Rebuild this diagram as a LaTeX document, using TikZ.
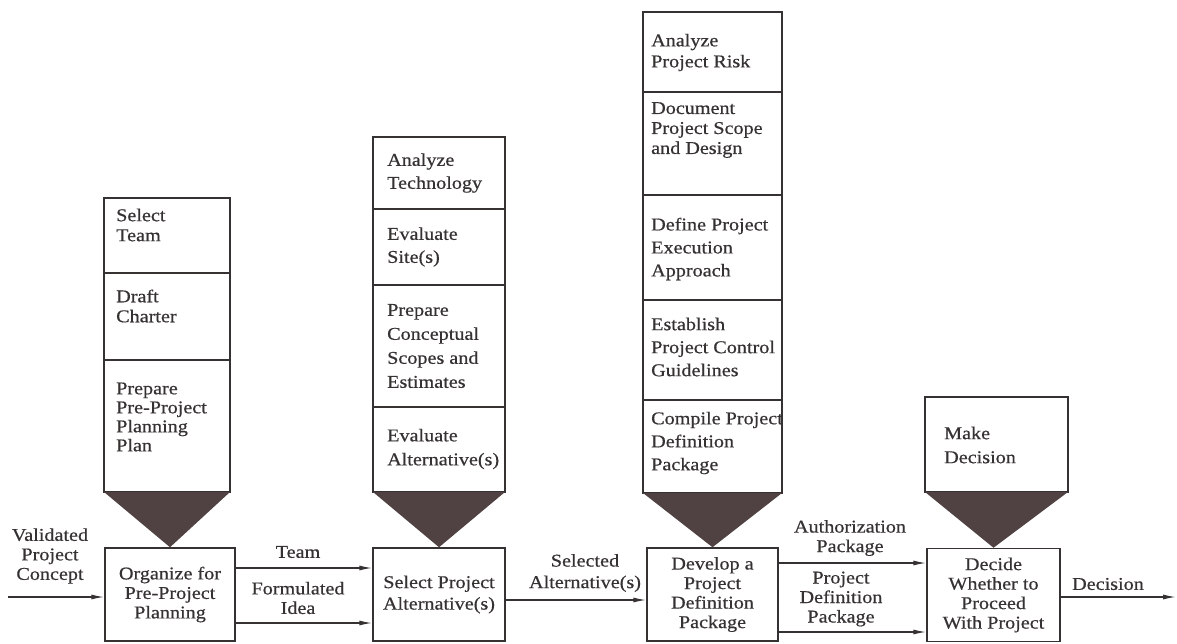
\documentclass[tikz,border=0pt]{standalone}
\usepackage{fontspec}
\setmainfont{Liberation Serif}[FakeStretch=1.12,FakeBold=0.6]
\usetikzlibrary{arrows.meta}
\definecolor{ink}{RGB}{55,50,50}
\definecolor{tri}{RGB}{80,66,66}
\begin{document}
\begin{tikzpicture}[x=1pt,y=-1pt,
  mainbox/.style={draw=ink,line width=1.5pt,minimum height=93pt,inner sep=0pt,align=center,text=ink,font=\fontsize{18}{19.5}\selectfont},
  cell/.style={draw=ink,line width=1.5pt},
  celltext/.style={anchor=west,inner sep=0pt,align=left,text=ink,font=\fontsize{18}{#1}\selectfont},
  celltext/.default=21,
  lab/.style={inner sep=0pt,align=center,text=ink,font=\fontsize{18}{19.5}\selectfont},
  arr/.style={draw=ink,line width=1.3pt,-{Latex[length=13pt,width=5pt]}},
  wedge/.style={fill=tri}
]
\useasboundingbox (0,0) rectangle (1177,643);

% main boxes
\node[mainbox,minimum width=130pt] (org) at (170,594.5) {Organize for\\Pre-Project\\Planning};
\node[mainbox,minimum width=132pt] (sel) at (439,594.5) {Select Project\\[2pt]Alternative(s)};
\node[mainbox,minimum width=131pt] (dev) at (712.5,594.5) {Develop a\\Project\\Definition\\Package};
\node[mainbox,minimum width=133pt] (dec) at (993.5,595) {Decide\\Whether to\\Proceed\\With Project};

% column 1 stack
\draw[cell] (104,198) rectangle (230,273);
\draw[cell] (104,273) rectangle (230,360);
\draw[cell] (104,360) rectangle (230,492);
\fill[wedge] (104,492) -- (230,492) -- (org.north) -- cycle;
\node[celltext=20] (c1a) at (116,225) {Select\\Team};
\node[celltext=20] (c1b) at (116,306) {Draft\\Charter};
\node[celltext=19] (c1c) at (116,417) {Prepare\\Pre-Project\\Planning\\Plan};

% column 2 stack
\draw[cell] (373,137) rectangle (505,209);
\draw[cell] (373,209) rectangle (505,285);
\draw[cell] (373,285) rectangle (505,407);
\draw[cell] (373,407) rectangle (505,492);
\fill[wedge] (373,492) -- (505,492) -- (sel.north) -- cycle;
\node[celltext=23] (c2a) at (387,173) {Analyze\\Technology};
\node[celltext=23] (c2b) at (387,247) {Evaluate\\Site(s)};
\node[celltext=24] (c2c) at (387,346) {Prepare\\Conceptual\\Scopes and\\Estimates};
\node[celltext=24] (c2d) at (387,449) {Evaluate\\Alternative(s)};

% column 3 stack
\draw[cell] (643,12) rectangle (782,92);
\draw[cell] (643,92) rectangle (782,195);
\draw[cell] (643,195) rectangle (782,300);
\draw[cell] (643,300) rectangle (782,400);
\draw[cell] (643,400) rectangle (782,493);
\fill[wedge] (643,493) -- (782,493) -- (dev.north) -- cycle;
\node[celltext=21] (c3a) at (651,52.5) {Analyze\\Project Risk};
\node[celltext=20] (c3b) at (651,130) {Document\\Project Scope\\and Design};
\node[celltext=23] (c3c) at (651,249) {Define Project\\Execution\\Approach};
\node[celltext=23] (c3d) at (651,347) {Establish\\Project Control\\Guidelines};
\node[celltext=23] (c3e) at (651,443) {Compile Project\\Definition\\Package};

% column 4 stack
\draw[cell] (925,397) rectangle (1068,492);
\fill[wedge] (925,492) -- (1068,492) -- (dec.north) -- cycle;
\node[celltext=24] (c4a) at (944,445) {Make\\Decision};

% connectors
\coordinate (in) at (8,597);
\coordinate (out) at (1176,597);
\draw[arr] (in) -- (in -| org.west);
\draw[arr] (org.east |- 0,568) -- (sel.west |- 0,568);
\draw[arr] (org.east |- 0,623) -- (sel.west |- 0,623);
\draw[arr] (sel.east |- 0,600) -- (dev.west |- 0,600);
\draw[arr] (dev.east |- 0,563) -- (dec.west |- 0,563);
\draw[arr] (dev.east |- 0,632) -- (dec.west |- 0,632);
\draw[arr] (dec.east |- out) -- (out);

% connector labels
\node[lab] (l1) at (50,556) {Validated\\Project\\Concept};
\node[lab] (l2) at (298,552) {Team};
\node[lab] (l3) at (298,598) {Formulated\\Idea};
\node[lab] (l4) at (585,573) {Selected\\[2pt]Alternative(s)};
\node[lab] (l5) at (850,538) {Authorization\\Package};
\node[lab] (l6) at (841,599) {Project\\Definition\\Package};
\node[lab] (l7) at (1108,584) {Decision};
\end{tikzpicture}
\end{document}
